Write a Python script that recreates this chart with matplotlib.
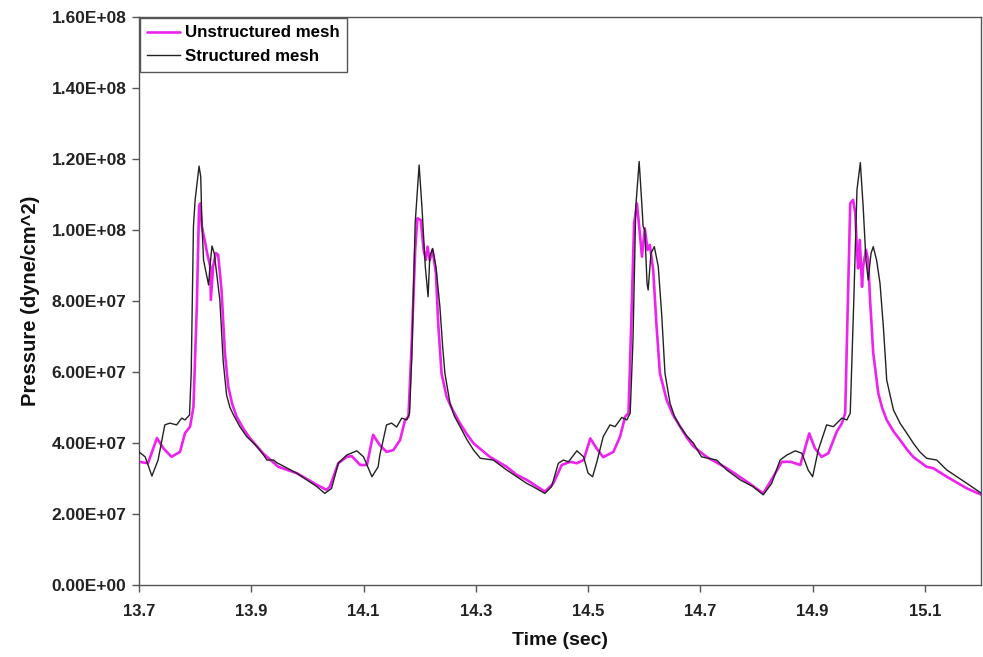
import matplotlib
matplotlib.use("Agg")
import matplotlib.pyplot as plt
import numpy as np

# Structured mesh: time (s) and pressure (1e7 dyne/cm^2)
t_struct = [
    13.700, 13.711, 13.723, 13.734, 13.746, 13.755, 13.767, 13.776, 13.782, 13.790,
    13.793, 13.797, 13.800, 13.807, 13.810, 13.812, 13.815, 13.821, 13.824, 13.826,
    13.830, 13.834, 13.844, 13.850, 13.856, 13.862, 13.868, 13.880, 13.892, 13.910,
    13.922, 13.928, 13.940, 13.945, 13.981, 14.017, 14.031, 14.043, 14.055, 14.070,
    14.088, 14.100, 14.115, 14.126, 14.129, 14.141, 14.150, 14.159, 14.168, 14.177,
    14.182, 14.186, 14.192, 14.199, 14.204, 14.210, 14.215, 14.218, 14.223, 14.229,
    14.236, 14.241, 14.245, 14.254, 14.262, 14.272, 14.284, 14.296, 14.308, 14.331,
    14.355, 14.373, 14.391, 14.402, 14.423, 14.435, 14.447, 14.456, 14.465, 14.480,
    14.492, 14.500, 14.508, 14.515, 14.527, 14.539, 14.548, 14.560, 14.569, 14.575,
    14.580, 14.585, 14.591, 14.596, 14.598, 14.601, 14.605, 14.607, 14.612, 14.618,
    14.625, 14.631, 14.637, 14.646, 14.654, 14.664, 14.676, 14.688, 14.702, 14.729,
    14.747, 14.771, 14.783, 14.794, 14.812, 14.827, 14.842, 14.854, 14.869, 14.881,
    14.892, 14.900, 14.910, 14.925, 14.937, 14.952, 14.961, 14.967, 14.973, 14.979,
    14.985, 14.990, 14.995, 14.999, 15.004, 15.008, 15.014, 15.020, 15.026, 15.032,
    15.044, 15.056, 15.068, 15.080, 15.091, 15.103, 15.121, 15.139, 15.175, 15.201,
]
p_struct = [
    3.75, 3.61, 3.07, 3.52, 4.51, 4.56, 4.51, 4.70, 4.65, 4.79,
    5.97, 10.10, 10.85, 11.80, 11.50, 10.20, 9.15, 8.69, 8.45, 8.90,
    9.55, 9.35, 8.03, 6.30, 5.35, 5.00, 4.80, 4.45, 4.18, 3.90,
    3.66, 3.52, 3.52, 3.45, 3.15, 2.77, 2.58, 2.72, 3.43, 3.66,
    3.78, 3.61, 3.05, 3.33, 3.66, 4.51, 4.56, 4.45, 4.70, 4.65,
    4.84, 6.43, 10.20, 11.83, 10.66, 8.97, 8.12, 9.25, 9.48, 8.97,
    7.84, 6.70, 5.96, 5.12, 4.75, 4.46, 4.10, 3.80, 3.57, 3.52,
    3.24, 3.05, 2.86, 2.77, 2.58, 2.77, 3.43, 3.52, 3.47, 3.78,
    3.61, 3.15, 3.05, 3.43, 4.18, 4.51, 4.46, 4.72, 4.65, 4.84,
    6.90, 10.66, 11.93, 10.66, 10.10, 10.00, 8.50, 8.31, 9.34, 9.53,
    8.97, 7.65, 5.96, 5.12, 4.75, 4.46, 4.20, 3.99, 3.61, 3.52,
    3.24, 2.96, 2.86, 2.77, 2.54, 2.86, 3.52, 3.66, 3.78, 3.71,
    3.24, 3.05, 3.80, 4.51, 4.46, 4.70, 4.65, 4.84, 7.84, 11.13,
    11.90, 10.66, 9.16, 8.59, 9.34, 9.53, 9.15, 8.50, 7.28, 5.77,
    4.93, 4.55, 4.27, 3.98, 3.75, 3.57, 3.52, 3.24, 2.86, 2.58,
]

# Unstructured mesh: time (s) and pressure (1e7 dyne/cm^2)
t_unstruct = [
    13.700, 13.716, 13.732, 13.743, 13.758, 13.773, 13.782, 13.791, 13.797, 13.803,
    13.807, 13.809, 13.812, 13.818, 13.822, 13.827, 13.828, 13.832, 13.837, 13.841,
    13.847, 13.853, 13.859, 13.866, 13.874, 13.886, 13.898, 13.921, 13.948, 13.981,
    14.017, 14.034, 14.040, 14.055, 14.070, 14.079, 14.094, 14.106, 14.117, 14.129,
    14.141, 14.153, 14.165, 14.174, 14.180, 14.186, 14.192, 14.196, 14.202, 14.207,
    14.211, 14.214, 14.218, 14.223, 14.229, 14.233, 14.239, 14.248, 14.258, 14.272,
    14.284, 14.296, 14.325, 14.355, 14.373, 14.391, 14.423, 14.438, 14.453, 14.468,
    14.480, 14.492, 14.504, 14.515, 14.527, 14.545, 14.557, 14.566, 14.572, 14.576,
    14.582, 14.587, 14.591, 14.596, 14.601, 14.606, 14.610, 14.616, 14.622, 14.628,
    14.640, 14.651, 14.664, 14.676, 14.688, 14.711, 14.747, 14.783, 14.812, 14.830,
    14.845, 14.861, 14.878, 14.894, 14.904, 14.916, 14.928, 14.943, 14.952, 14.958,
    14.964, 14.967, 14.972, 14.976, 14.979, 14.981, 14.984, 14.988, 14.990, 14.995,
    14.999, 15.002, 15.008, 15.017, 15.024, 15.032, 15.044, 15.056, 15.068, 15.079,
    15.103, 15.115, 15.139, 15.175, 15.201,
]
p_unstruct = [
    3.47, 3.43, 4.14, 3.86, 3.61, 3.75, 4.28, 4.46, 5.02, 7.84,
    10.66, 10.75, 10.10, 9.63, 9.30, 8.97, 8.03, 8.97, 9.35, 9.30,
    8.31, 6.54, 5.59, 5.10, 4.74, 4.40, 4.13, 3.71, 3.33, 3.15,
    2.82, 2.68, 2.77, 3.43, 3.61, 3.63, 3.38, 3.38, 4.23, 3.94,
    3.75, 3.80, 4.08, 4.65, 4.74, 6.90, 9.44, 10.33, 10.28, 9.44,
    9.16, 9.53, 9.15, 9.44, 8.78, 7.37, 5.96, 5.30, 4.95, 4.55,
    4.25, 3.99, 3.61, 3.33, 3.10, 2.96, 2.63, 2.86, 3.38, 3.47,
    3.43, 3.52, 4.13, 3.85, 3.60, 3.75, 4.18, 4.74, 4.84, 6.90,
    10.19, 10.75, 10.10, 9.25, 10.05, 9.44, 9.58, 8.87, 7.28, 5.96,
    5.21, 4.80, 4.46, 4.15, 3.90, 3.61, 3.29, 2.91, 2.58, 3.05,
    3.47, 3.47, 3.38, 4.27, 3.85, 3.61, 3.71, 4.32, 4.55, 4.84,
    8.78, 10.75, 10.85, 10.47, 9.44, 8.92, 9.72, 8.40, 8.97, 9.44,
    9.15, 8.12, 6.53, 5.40, 4.98, 4.65, 4.33, 4.08, 3.82, 3.61,
    3.33, 3.29, 3.05, 2.72, 2.54,
]

x_ticks = [13.7, 13.9, 14.1, 14.3, 14.5, 14.7, 14.9, 15.1]
x_tick_labels = ["13.7", "13.9", "14.1", "14.3", "14.5", "14.7", "14.9", "15.1"]
y_ticks = [0, 2e7, 4e7, 6e7, 8e7, 1e8, 1.2e8, 1.4e8, 1.6e8]
y_tick_labels = ["0.00E+00", "2.00E+07", "4.00E+07", "6.00E+07", "8.00E+07",
                 "1.00E+08", "1.20E+08", "1.40E+08", "1.60E+08"]

SCALE = 1e7
font = ["Liberation Sans", "DejaVu Sans"]
plt.rcParams["font.family"] = font

fig = plt.figure(figsize=(9.83, 6.57), dpi=100)
ax = fig.add_axes([0.1414, 0.1096, 0.8566, 0.8645])

ax.plot(np.array(t_unstruct), np.array(p_unstruct) * SCALE, color="#ee22ee",
        lw=1.9, label="Unstructured mesh", zorder=2,
        solid_joinstyle="round", solid_capstyle="round")
ax.plot(np.array(t_struct), np.array(p_struct) * SCALE, color="#222222",
        lw=1.0, label="Structured mesh", zorder=3,
        solid_joinstyle="round")

ax.set_xlim(13.7, 15.2)
ax.set_ylim(0, 1.6e8)
ax.set_xticks(x_ticks)
ax.set_xticklabels(x_tick_labels)
ax.set_yticks(y_ticks)
ax.set_yticklabels(y_tick_labels)
ax.tick_params(direction="out", length=5, width=1, color="#555555", pad=4)
ax.tick_params(axis="y", labelsize=12.5)
ax.tick_params(axis="x", labelsize=12, pad=9)
for lbl in ax.get_xticklabels() + ax.get_yticklabels():
    lbl.set_fontweight("bold")
    lbl.set_color("#222222")

for s in ax.spines.values():
    s.set_color("#555555")
    s.set_linewidth(1.0)

ax.set_xlabel("Time (sec)", fontsize=14, fontweight="bold", labelpad=9,
              color="#111111")
ax.set_ylabel("Pressure (dyne/cm^2)", fontsize=14.5, fontweight="bold",
              labelpad=8, color="#111111")

leg = ax.legend(loc="upper left", bbox_to_anchor=(0.0, 1.0), borderaxespad=0.05,
                fancybox=False, framealpha=1, edgecolor="#555555",
                prop={"family": font, "weight": "bold", "size": 12.2},
                handlelength=1.9, handletextpad=0.3, borderpad=0.45,
                labelspacing=0.5)
leg.get_frame().set_linewidth(1.0)

fig.savefig("out.png", dpi=100)
